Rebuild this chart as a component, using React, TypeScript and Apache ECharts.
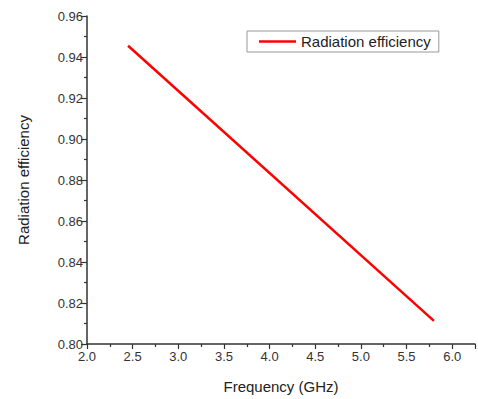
import React, { useEffect, useRef } from "react";
import * as echarts from "echarts";

const frequencies: number[] = [2.45, 5.8];
const efficiencies: number[] = [0.9455, 0.8113];
const seriesName = "Radiation efficiency";
const xTitle = "Frequency (GHz)";
const yTitle = "Radiation efficiency";

export default function App() {
  const ref = useRef<HTMLDivElement>(null);
  useEffect(() => {
    if (!ref.current) return;
    const chart = echarts.init(ref.current, null, { renderer: "svg" });
    const font = "'Liberation Sans', Arial, sans-serif";
    const axisColor = "#333";
    chart.setOption({
      animation: false,
      backgroundColor: "#fff",
      textStyle: { fontFamily: font },
      grid: { left: 87, top: 16, right: 1.5, bottom: 53.5, containLabel: false },
      legend: {
        show: true,
        left: 247,
        top: 31,
        orient: "horizontal",
        icon: "rect",
        itemWidth: 37,
        itemHeight: 2.5,
        itemGap: 5,
        borderColor: "#999",
        borderWidth: 1,
        padding: [3, 8, 3, 12],
        textStyle: { fontFamily: font, fontSize: 15, color: "#222", padding: [0, 0, 0, 0] },
        data: [{ name: seriesName, itemStyle: { color: "#ff0000" } }],
      },
      xAxis: {
        type: "value",
        min: 2.0,
        max: 6.25,
        interval: 0.5,
        name: xTitle,
        nameLocation: "middle",
        nameGap: 35,
        nameTextStyle: { fontFamily: font, fontSize: 15, color: "#222" },
        axisLine: { show: true, onZero: false, lineStyle: { color: axisColor, width: 1.5 } },
        axisTick: { show: true, inside: false, length: 5, lineStyle: { color: axisColor, width: 1.2 } },
        minorTick: { show: true, splitNumber: 2, length: 3, lineStyle: { color: axisColor, width: 1.2 } },
        splitLine: { show: false },
        axisLabel: {
          fontFamily: font,
          fontSize: 13,
          color: "#333",
          margin: 6,
          formatter: (v: number) => (v > 6.01 ? "" : v.toFixed(1)),
        },
      },
      yAxis: {
        type: "value",
        min: 0.8,
        max: 0.96,
        interval: 0.02,
        name: yTitle,
        nameLocation: "middle",
        nameGap: 56,
        nameTextStyle: { fontFamily: font, fontSize: 15, color: "#222" },
        axisLine: { show: true, onZero: false, lineStyle: { color: axisColor, width: 1.5 } },
        axisTick: { show: true, inside: false, length: 6, lineStyle: { color: axisColor, width: 1.2 } },
        minorTick: { show: true, splitNumber: 2, length: 3, lineStyle: { color: axisColor, width: 1.2 } },
        splitLine: { show: false },
        axisLabel: {
          fontFamily: font,
          fontSize: 13,
          color: "#333",
          margin: 4,
          formatter: (v: number) => v.toFixed(2),
        },
      },
      series: [
        {
          name: seriesName,
          type: "line",
          data: frequencies.map((f, i) => [f, efficiencies[i]]),
          symbol: "none",
          showSymbol: false,
          lineStyle: { color: "#ff0000", width: 2.5 },
          itemStyle: { color: "#ff0000" },
        },
      ],
    });
    return () => chart.dispose();
  }, []);
  return <div ref={ref} style={{ width: 478, height: 399, position: "absolute", left: 0, top: 0 }} />;
}
